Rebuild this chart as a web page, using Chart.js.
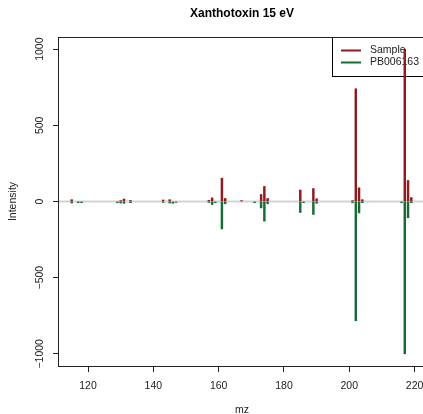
<!DOCTYPE html>
<html>
<head>
<meta charset="utf-8">
<script src="https://cdn.jsdelivr.net/npm/chart.js@4"></script>
<style>
  html, body { margin: 0; padding: 0; background: #fff; overflow: hidden; }
  #wrap { width: 436px; height: 414px; }
</style>
</head>
<body>
<div id="wrap"><canvas id="spec" width="436" height="414"></canvas></div>
<script>
// peaks: mz and relative intensity (reference drawn downward)
const mz =        [115, 117, 118, 129, 130, 131, 133, 143, 145, 146, 147, 157, 158, 159, 161, 162, 167, 171, 173, 174, 175, 185, 186, 189, 190, 201, 202, 203, 204, 216, 217, 218, 219];
const sampleInt = [12, null, null, null, 6, 16, 7, 10, 12, null, null, 8, 24, null, 153, 20, 6, null, 46, 99, 20, 75, null, 85, 18, 6, 740, 90, 12, null, 1000, 138, 26];
const refInt =    [-10, -8, -8, -8, -10, -12, -8, -6, -10, -12, -6, -6, -20, -8, -180, -15, null, -8, -42, -129, -15, -72, -8, -85, -12, -8, -783, -75, -8, -8, -1000, -107, -8];
const seriesNames = ['Sample', 'PB006163'];
const xTicks = [120, 140, 160, 180, 200, 220];
const yTicks = [-1000, -500, 0, 500, 1000];

const RED = '#8f1a1f';
const GREEN = '#186b37';
const FONT = "'Liberation Sans', Arial, Helvetica, sans-serif";

function toPoints(vals) {
  return mz.map((m, i) => ({ x: m, y: vals[i] })).filter(p => p.y !== null);
}

// baseline, legend box and plot frame, R style
const extras = {
  id: 'extras',
  beforeDatasetsDraw(chart) {
    const { ctx, chartArea: a, scales } = chart;
    const y0 = scales.y.getPixelForValue(0);
    ctx.save();
    ctx.strokeStyle = '#d3d3d3';
    ctx.lineWidth = 2;
    ctx.beginPath();
    ctx.moveTo(a.left, y0);
    ctx.lineTo(a.right, y0);
    ctx.stroke();

    const lx = a.right - 94, ly = a.top;
    ctx.fillStyle = '#fff';
    ctx.fillRect(lx, ly, 200, 39);
    ctx.strokeStyle = '#000';
    ctx.lineWidth = 1;
    ctx.strokeRect(lx + 0.5, ly + 0.5, 200, 39);
    const cols = [RED, GREEN];
    ctx.font = '10.5px ' + FONT;
    ctx.textBaseline = 'middle';
    ctx.textAlign = 'left';
    seriesNames.forEach((name, i) => {
      const yy = ly + 13.5 + i * 12;
      ctx.strokeStyle = cols[i];
      ctx.lineWidth = 2;
      ctx.beginPath();
      ctx.moveTo(lx + 9, yy);
      ctx.lineTo(lx + 29, yy);
      ctx.stroke();
      ctx.fillStyle = '#222';
      ctx.fillText(name, lx + 38, yy);
    });
    ctx.restore();
  },
  afterDraw(chart) {
    const { ctx, chartArea: a } = chart;
    ctx.save();
    ctx.strokeStyle = '#222';
    ctx.lineWidth = 1;
    ctx.strokeRect(a.left + 0.5, a.top + 0.5, a.right - a.left, a.bottom - a.top);
    ctx.restore();
  }
};

new Chart(document.getElementById('spec'), {
  type: 'bar',
  data: {
    datasets: [
      { label: seriesNames[0], data: toPoints(sampleInt), backgroundColor: RED },
      { label: seriesNames[1], data: toPoints(refInt), backgroundColor: GREEN }
    ]
  },
  options: {
    responsive: false,
    animation: false,
    layout: { padding: { left: 0, right: 10, top: 0, bottom: 0 } },
    datasets: {
      bar: { barThickness: 1.8, grouped: false, borderWidth: 0 }
    },
    plugins: {
      legend: { display: false },
      tooltip: { enabled: false },
      title: {
        display: true,
        text: 'Xanthotoxin 15 eV',
        fullSize: false,
        color: '#000',
        font: { family: FONT, size: 12, weight: 'bold' },
        padding: { top: 6, bottom: 16.6 }
      }
    },
    scales: {
      x: {
        type: 'linear',
        offset: false,
        min: 110.8,
        max: 223.5,
        afterBuildTicks: s => { s.ticks = xTicks.map(v => ({ value: v })); },
        afterFit: s => { s.height = 48; },
        grid: { offset: false, drawOnChartArea: false, drawTicks: true, tickLength: 6, tickColor: '#222' },
        border: { display: true, color: '#222' },
        ticks: { color: '#222', font: { family: FONT, size: 10.5 }, padding: 8, maxRotation: 0 },
        title: { display: true, text: 'mz', color: '#222', font: { family: FONT, size: 10.5 }, padding: { top: 0, bottom: -2 } }
      },
      y: {
        min: -1080,
        max: 1080,
        afterBuildTicks: s => { s.ticks = yTicks.map(v => ({ value: v })); },
        afterFit: s => { s.width = 58; },
        grid: { drawOnChartArea: false, drawTicks: true, tickLength: 5, tickColor: '#222' },
        border: { display: true, color: '#222' },
        ticks: {
          color: '#222',
          font: { family: FONT, size: 10.5 },
          minRotation: 90,
          maxRotation: 90,
          crossAlign: 'center',
          padding: -2,
          callback: v => String(v).replace('-', '\u2212')
        },
        title: { display: true, text: 'Intensity', color: '#222', font: { family: FONT, size: 10.5 }, padding: { top: 7, bottom: 0 } }
      }
    }
  },
  plugins: [extras]
});
</script>
</body>
</html>
